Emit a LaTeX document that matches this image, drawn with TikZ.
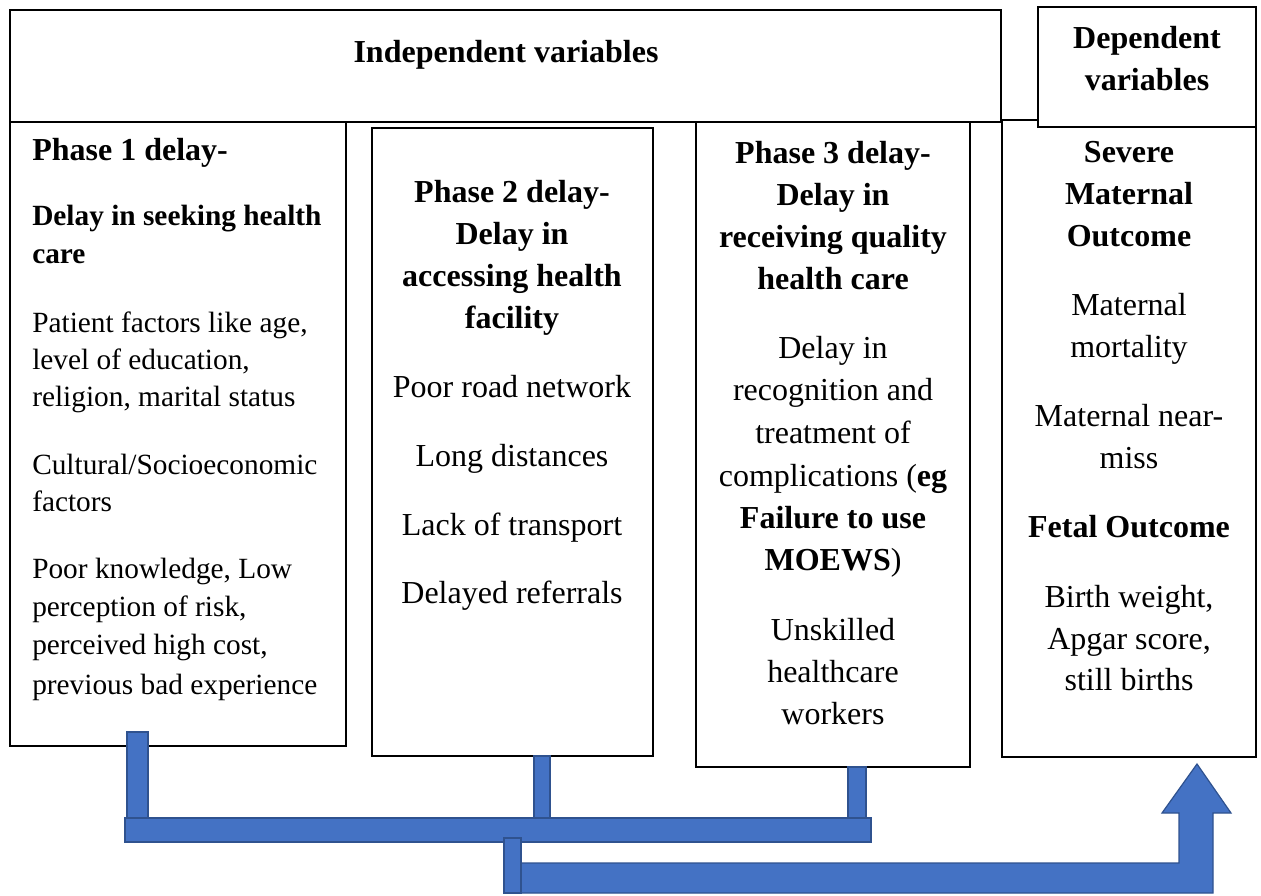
\documentclass[tikz,border=0pt]{standalone}
\usepackage{fontspec}
\setmainfont{Liberation Serif}
\definecolor{bfill}{HTML}{4472C4}
\definecolor{bdraw}{HTML}{2F528F}
\newcommand\txtline[4]{\node[txt,#1] (#2) at #3 {#4};}
\begin{document}
\begin{tikzpicture}[x=0.75pt,y=-0.75pt,
  box/.style={draw=black, fill=white, line width=1.5pt, inner sep=0pt, outer sep=0pt, anchor=north west},
  txt/.style={inner sep=0pt, anchor=base, font=\fontsize{24}{28}\selectfont},
  lft/.style={anchor=base west, font=\fontsize{22}{26}\selectfont},
  lbf/.style={anchor=base west, font=\fontsize{22}{26}\selectfont\bfseries},
  bf/.style={font=\fontsize{24}{28}\selectfont\bfseries},
  blk/.style={fill=bfill, draw=bdraw, line width=0.9pt, line join=miter}]
\useasboundingbox (0,0) rectangle (1261,896);
% columns
\node[box, minimum width=336*0.75pt, minimum height=624*0.75pt] (c1) at (10,122) {};
\node[box, minimum width=281*0.75pt, minimum height=628*0.75pt] (c2) at (372,128) {};
\node[box, minimum width=274*0.75pt, minimum height=645*0.75pt] (c3) at (696,122) {};
\node[box, minimum width=254*0.75pt, minimum height=637*0.75pt] (c4) at (1002,120) {};
% headers
\node[box, minimum width=991*0.75pt, minimum height=112*0.75pt] (indep) at (10,10) {};
\node[box, minimum width=218*0.75pt, minimum height=120*0.75pt] (dep) at (1038,7) {};
\txtline{bf}{th}{(506,62)}{Independent variables}
\txtline{bf}{dh1}{(1147,48)}{Dependent}
\txtline{bf}{dh2}{(1147,90)}{variables}
% column 1
\txtline{bf,anchor=base west}{a1}{(32,160)}{Phase 1 delay-}
\txtline{lbf}{a2}{(32,225)}{Delay in seeking health}
\txtline{lbf}{a3}{(32,263)}{care}
\txtline{lft}{a4}{(32,332)}{Patient factors like age,}
\txtline{lft}{a5}{(32,369)}{level of education,}
\txtline{lft}{a6}{(32,406)}{religion, marital status}
\txtline{lft}{a7}{(32,474)}{Cultural/Socioeconomic}
\txtline{lft}{a8}{(32,511)}{factors}
\txtline{lft}{a9}{(32,578)}{Poor knowledge, Low}
\txtline{lft}{a10}{(32,616)}{perception of risk,}
\txtline{lft}{a11}{(32,654)}{perceived high cost,}
\txtline{lft}{a12}{(32,694)}{previous bad experience}
% column 2
\txtline{bf}{b1}{(512,202)}{Phase 2 delay-}
\txtline{bf}{b2}{(512,244)}{Delay in}
\txtline{bf}{b3}{(512,286)}{accessing health}
\txtline{bf}{b4}{(512,328)}{facility}
\txtline{}{b5}{(512,397)}{Poor road network}
\txtline{}{b6}{(512,466)}{Long distances}
\txtline{}{b7}{(512,535)}{Lack of transport}
\txtline{}{b8}{(512,603)}{Delayed referrals}
% column 3
\txtline{bf}{d1}{(833,163)}{Phase 3 delay-}
\txtline{bf}{d2}{(833,205)}{Delay in}
\txtline{bf}{d3}{(833,247)}{receiving quality}
\txtline{bf}{d4}{(833,289)}{health care}
\txtline{}{d5}{(833,358)}{Delay in}
\txtline{}{d6}{(833,400)}{recognition and}
\txtline{}{d7}{(833,443)}{treatment of}
\txtline{}{d8}{(833,486)}{complications (\textbf{eg}}
\txtline{bf}{d9}{(833,528)}{Failure to use}
\txtline{}{d10}{(833,570)}{\textbf{MOEWS})}
\txtline{}{d11}{(833,640)}{Unskilled}
\txtline{}{d12}{(833,682)}{healthcare}
\txtline{}{d13}{(833,724)}{workers}
% column 4
\txtline{bf}{e1}{(1129,162)}{Severe}
\txtline{bf}{e2}{(1129,204)}{Maternal}
\txtline{bf}{e3}{(1129,246)}{Outcome}
\txtline{}{e4}{(1129,315)}{Maternal}
\txtline{}{e5}{(1129,357)}{mortality}
\txtline{}{e6}{(1129,426)}{Maternal near-}
\txtline{}{e7}{(1129,468)}{miss}
\txtline{bf}{e8}{(1129,537)}{Fetal Outcome}
\txtline{}{e9}{(1129,607)}{Birth weight,}
\txtline{}{e10}{(1129,649)}{Apgar score,}
\txtline{}{e11}{(1129,690)}{still births}
% blue connectors
\draw[blk] (512,893) -- (1213,893) -- (1213,813) -- (1231,813) -- (1197,764) -- (1162,813) -- (1179,813) -- (1179,863) -- (512,863) -- cycle;
\draw[blk] (127,732) rectangle (148,818);
\draw[blk] (534,756) rectangle (550,818);
\draw[blk] (848,767) rectangle (866,818);
\draw[blk] (125,818) rectangle (871,842);
\draw[blk] (504,838) rectangle (521,893);
\end{tikzpicture}
\end{document}
